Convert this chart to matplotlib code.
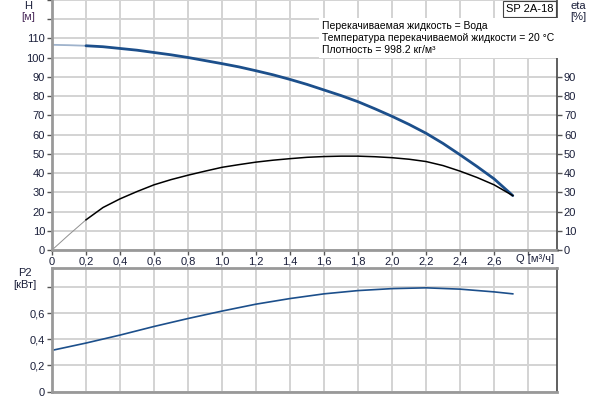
import numpy as np
import matplotlib
matplotlib.use("Agg")
from matplotlib import pyplot as plt
from matplotlib import transforms

plt.rcParams['font.family'] = ['Liberation Sans', 'DejaVu Sans']
plt.rcParams['font.size'] = 8

# flow [m3/h], head [m], efficiency [%]
q = [0.0, 0.1, 0.2, 0.3, 0.4, 0.5, 0.6, 0.7, 0.8, 0.9, 1.0, 1.1, 1.2, 1.3,
     1.4, 1.5, 1.6, 1.7, 1.8, 1.9, 2.0, 2.1, 2.2, 2.3, 2.4, 2.5, 2.6, 2.71]
head = [106.7, 106.5, 106.2, 105.7, 104.8, 103.9, 102.7, 101.5, 100.1, 98.5,
        96.9, 95.2, 93.2, 91.1, 88.7, 86.1, 83.2, 80.3, 77.1, 73.4, 69.5,
        65.3, 60.7, 55.4, 49.5, 43.4, 37.0, 28.3]
eta = [0.0, 8.0, 15.7, 22.1, 26.6, 30.4, 33.9, 36.6, 38.9, 41.0, 43.0, 44.4,
       45.7, 46.7, 47.5, 48.2, 48.6, 48.8, 48.8, 48.5, 48.0, 47.2, 46.0,
       43.9, 41.0, 37.7, 33.9, 28.3]
# shaft power P2 [kW]
q_p = [0.0, 0.2, 0.4, 0.6, 0.8, 1.0, 1.2, 1.4, 1.6, 1.8, 2.0, 2.2, 2.4,
       2.6, 2.71]
p2 = [0.316, 0.372, 0.433, 0.499, 0.560, 0.617, 0.670, 0.713, 0.749, 0.774,
      0.789, 0.795, 0.785, 0.764, 0.749]

x_ticks = [0.0, 0.2, 0.4, 0.6, 0.8, 1.0, 1.2, 1.4, 1.6, 1.8, 2.0, 2.2, 2.4,
           2.6, 2.8]
x_labels = ["0", "0,2", "0,4", "0,6", "0,8", "1,0", "1,2", "1,4", "1,6",
            "1,8", "2,0", "2,2", "2,4", "2,6", ""]
h_ticks = list(range(0, 140, 10))
h_labels = [str(v) for v in range(0, 120, 10)] + ["", ""]
eta_ticks = list(range(0, 100, 10))
p_ticks = [0.0, 0.2, 0.4, 0.6, 0.8]
p_labels = ["0", "0,2", "0,4", "0,6", ""]

info = ["Перекачиваемая жидкость = Вода",
        "Температура перекачиваемой жидкости = 20 °C",
        "Плотность = 998.2 кг/м³"]

BLUE = "#1c4f8b"
GRID = "#d4d4d4"
SPINE = "#999999"
TXT = "#1a1f3a"

q = np.array(q)
head = np.array(head)
eta = np.array(eta)
first = q <= 0.2

fig = plt.figure(figsize=(6, 4), dpi=100)
ax = fig.add_axes([0.0867, 0.375, 0.8416, 0.625])
ax2 = fig.add_axes([0.0867, 0.021, 0.8416, 0.309])


def style(a):
    for s in ["left", "bottom", "top"]:
        a.spines[s].set_color(SPINE)
        a.spines[s].set_linewidth(2)
    a.spines["right"].set_color("#444444")
    a.spines["right"].set_linewidth(1.2)
    a.tick_params(colors="#555555", labelcolor=TXT, length=3.5, width=1,
                  pad=1.5)
    a.set_xlim(0, 2.97)
    a.set_xticks(x_ticks)
    a.set_axisbelow(True)
    a.grid(True, color=GRID, linewidth=1.44)


style(ax)
ax.spines["top"].set_visible(False)
ax.set_ylim(0, 130)
ax.set_yticks(h_ticks)
ax.set_yticklabels(h_labels)
ax.set_xticklabels(x_labels)

axr = ax.twinx()
axr.set_ylim(0, 130)
axr.set_yticks(eta_ticks)
axr.tick_params(colors="#555555", labelcolor=TXT, length=3.5, width=1,
                pad=1.5)
for s in axr.spines.values():
    s.set_visible(False)

# head curve
ax.plot(q[first], head[first], color="#9fb3cc", lw=1.3)
ax.plot(q[2:], head[2:], color=BLUE, lw=2.0, solid_capstyle="round")
# efficiency curve
ax.plot(q[first], eta[first], color="#909090", lw=0.7)
ax.plot(q[2:], eta[2:], color="black", lw=1.1)

trans = transforms.blended_transform_factory(ax.transData, ax.transAxes)
ax.text(2.84, -0.034, "Q [м³/ч]", transform=trans, ha="center", va="center",
        color=TXT, clip_on=False)

ax.text(-0.0475, 0.976, "H", transform=ax.transAxes, ha="center",
        va="center", color=TXT)
ax.text(-0.0475, 0.932, "[м]", transform=ax.transAxes, ha="center",
        va="center", color="#4a2a5a")
ax.text(1.042, 0.976, "eta", transform=ax.transAxes, ha="center",
        va="center", color=TXT)
ax.text(1.042, 0.932, "[%]", transform=ax.transAxes, ha="center",
        va="center", color=TXT)

ax.text(0.993, 0.964, "SP 2A-18", transform=ax.transAxes, ha="right",
        va="center", fontsize=8,
        bbox=dict(facecolor="white", edgecolor="#444444", lw=0.8,
                  boxstyle="square,pad=0.25"))
ax.text(0.535, 0.847, "\n".join(info), transform=ax.transAxes,
        ha="left", va="center", fontsize=7.5, linespacing=1.22,
        bbox=dict(facecolor="white", edgecolor="none", pad=2.5))

style(ax2)
ax2.set_ylim(0, 0.947)
ax2.set_yticks(p_ticks)
ax2.set_yticklabels(p_labels)
ax2.tick_params(axis="x", length=0, labelbottom=False)
ax2.plot(q_p, p2, color=BLUE, lw=1.2)
ax2.text(-0.054, 0.96, "P2", transform=ax2.transAxes, ha="center",
         va="center", color=TXT)
ax2.text(-0.054, 0.862, "[кВт]", transform=ax2.transAxes, ha="center",
         va="center", color=TXT)

fig.savefig("out.png", dpi=100)
